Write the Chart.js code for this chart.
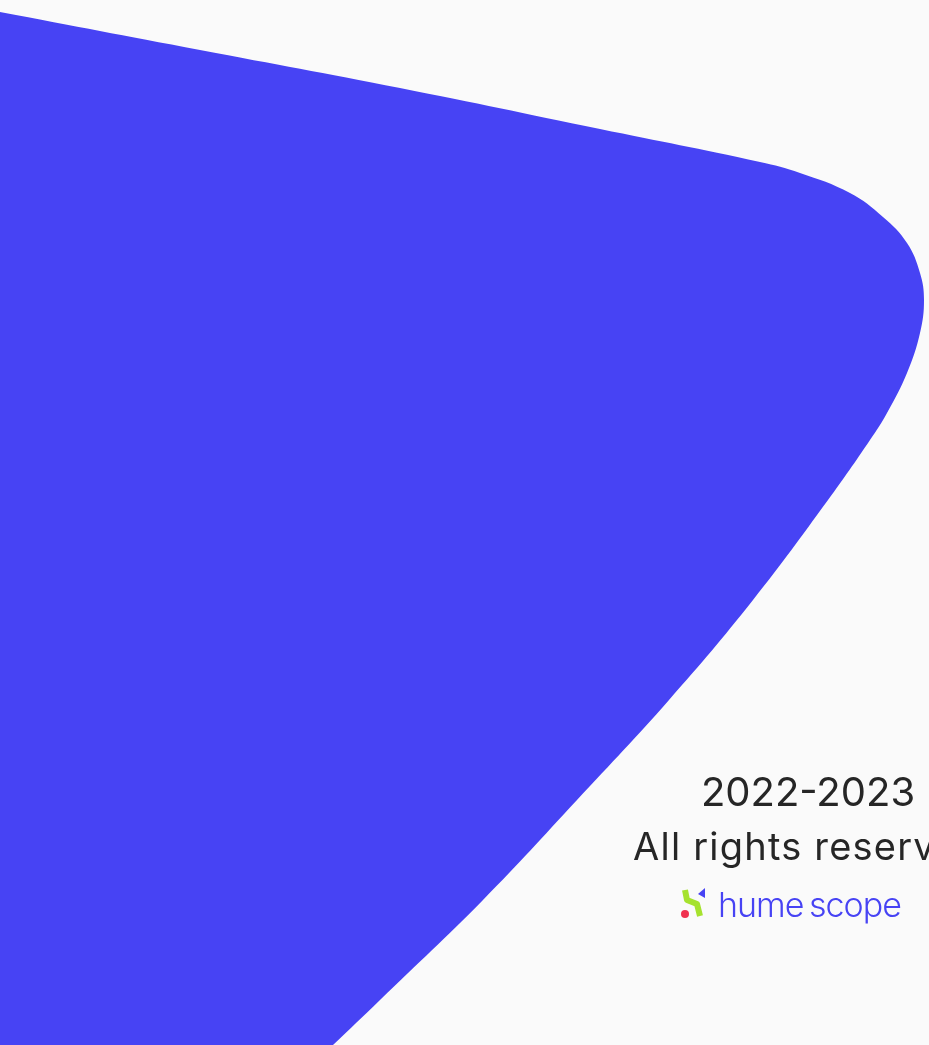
<!DOCTYPE html>
<html lang="en">
<head>
    <meta charset="UTF-8">
    <title>hume scope</title>
    <script src="https://cdn.jsdelivr.net/npm/chart.js"></script>
    <style>
        html, body { margin: 0; padding: 0; background: #fafafa; overflow: hidden; }
        #wrap { position: relative; width: 929px; height: 1045px; }
        #shape { position: absolute; left: 0; top: 0; }
        .txt {
            position: absolute; left: 608px; width: 400px; text-align: center;
            font-family: Inter, "DejaVu Sans", sans-serif; color: #262626;
            white-space: nowrap; line-height: 1;
        }
        #years { top: 772px; font-size: 40px; }
        #rights { top: 827px; font-size: 38px; letter-spacing: 1.2px; }
        #logo { position: absolute; left: 679px; top: 886px; }
        #brand {
            position: absolute; left: 718px; top: 884px;
            font-family: Inter, sans-serif; font-weight: 300; font-size: 34px;
            color: #4743f4; letter-spacing: -1px; word-spacing: -3px; white-space: nowrap;
        }
    </style>
</head>
<body>
<div id="wrap">
    <canvas id="shape" width="929" height="1045"></canvas>
    <div class="txt" id="years">2022-2023</div>
    <div class="txt" id="rights">All rights reserved</div>
    <svg id="logo" width="30" height="34" viewBox="0 0 30 34">
        <path d="M6 4 L8 14 L18 18 L21 30" stroke="#a6e22e" stroke-width="6" fill="none" stroke-linejoin="round"/>
        <circle cx="6" cy="28" r="4" fill="#f0314f"/>
        <path d="M26 2 L26 12 L19 8 Z" fill="#4743f4"/>
    </svg>
    <div id="brand">hume scope</div>
</div>

<script>
    // right-hand edge of the blue shape, read top to bottom
    const edgeY = [12, 50, 88, 129, 162, 173, 193, 217, 243, 273, 300, 333, 373, 413, 440, 500, 600, 700, 800, 900, 1000, 1045, 1080];
    const edgeX = [0, 200, 400, 600, 760, 800, 850, 883, 907, 920, 924, 920, 907, 887, 870, 828, 753, 669, 577, 483, 380, 333, 296];

    const points = edgeY.map((y, i) => ({ x: edgeX[i], y: y }));

    new Chart(document.getElementById('shape'), {
        type: 'line',
        data: {
            datasets: [{
                data: points,
                borderWidth: 0,
                borderColor: 'rgba(0,0,0,0)',
                backgroundColor: '#4743f4',
                pointRadius: 0,
                fill: { value: 0 },
                tension: 0.4
            }]
        },
        options: {
            indexAxis: 'y',
            responsive: false,
            animation: false,
            layout: { padding: 0 },
            plugins: { legend: { display: false }, tooltip: { enabled: false } },
            scales: {
                x: { type: 'linear', min: 0, max: 929, display: false },
                y: { type: 'linear', min: 0, max: 1045, reverse: true, display: false }
            }
        }
    });
</script>
</body>
</html>
